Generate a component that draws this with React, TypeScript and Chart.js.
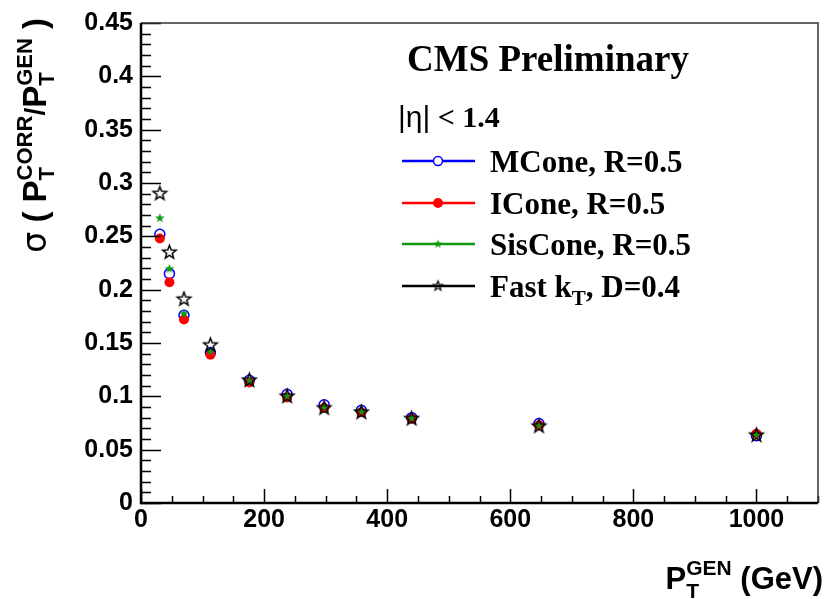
import React, { useEffect, useRef } from 'react';
import { Chart, registerables } from 'chart.js';

Chart.register(...registerables);

// ---- data ----
const ptGen = [30.6, 46.2, 69.8, 112.8, 176, 237.4, 297.6, 358, 439.8, 646.6, 1000];
const mcone = [0.252, 0.215, 0.176, 0.141, 0.115, 0.102, 0.092, 0.087, 0.080, 0.0745, 0.063];
const icone = [0.248, 0.207, 0.172, 0.139, 0.113, 0.099, 0.089, 0.085, 0.079, 0.073, 0.065];
const siscone = [0.267, 0.2195, 0.1774, 0.1422, 0.114, 0.100, 0.090, 0.086, 0.0795, 0.073, 0.064];
const fastkt = [0.290, 0.235, 0.191, 0.148, 0.115, 0.100, 0.089, 0.085, 0.079, 0.072, 0.0635];

const xTickValues = [0, 200, 400, 600, 800, 1000];
const xTickLabels = ['0', '200', '400', '600', '800', '1000'];
const yTickValues = [0, 0.05, 0.1, 0.15, 0.2, 0.25, 0.3, 0.35, 0.4, 0.45];
const yTickLabels = ['0', '0.05', '0.1', '0.15', '0.2', '0.25', '0.3', '0.35', '0.4', '0.45'];

const seriesNames = ['MCone, R=0.5', 'ICone, R=0.5', 'SisCone, R=0.5', 'Fast k'];

const BLUE = '#0000ff';
const RED = '#ff0000';
const GREEN = '#119911';
const BLACK = '#000000';

const SANS = '"Liberation Sans", Arial, Helvetica, sans-serif';
const SERIF = '"Liberation Serif", "Times New Roman", serif';

function starCanvas(R: number, fill: string | null, stroke: string | null, lw: number) {
  const s = Math.ceil(2 * R + 2 * lw + 2);
  const c = document.createElement('canvas');
  c.width = s;
  c.height = s;
  const ctx = c.getContext('2d')!;
  ctx.beginPath();
  for (let i = 0; i < 10; i++) {
    const r = i % 2 === 0 ? R : R * 0.42;
    const a = -Math.PI / 2 + (i * Math.PI) / 5;
    const px = s / 2 + r * Math.cos(a);
    const py = s / 2 + r * Math.sin(a);
    if (i === 0) ctx.moveTo(px, py);
    else ctx.lineTo(px, py);
  }
  ctx.closePath();
  if (fill) {
    ctx.fillStyle = fill;
    ctx.fill();
  }
  if (stroke) {
    ctx.strokeStyle = stroke;
    ctx.lineWidth = lw;
    ctx.lineJoin = 'miter';
    ctx.stroke();
  }
  return c;
}

type Run = { t: string; size: number; dy: number; weight?: string; fam?: string; stack?: boolean };

function layoutRuns(ctx: CanvasRenderingContext2D, runs: Run[]) {
  let x = 0;
  let stackStart = 0;
  let stackMax = 0;
  const out: (Run & { x: number })[] = [];
  for (const r of runs) {
    ctx.font = `${r.weight ?? 'bold'} ${r.size}px ${r.fam ?? SANS}`;
    const w = ctx.measureText(r.t).width;
    if (r.stack) {
      out.push({ ...r, x: stackStart });
      x = stackStart + Math.max(stackMax, w);
    } else {
      stackStart = x;
      stackMax = w;
      out.push({ ...r, x });
      x += w;
    }
  }
  return { out, width: x };
}

function drawRuns(ctx: CanvasRenderingContext2D, runs: Run[], x0: number, y0: number) {
  const { out } = layoutRuns(ctx, runs);
  ctx.textBaseline = 'alphabetic';
  ctx.textAlign = 'left';
  for (const r of out) {
    ctx.font = `${r.weight ?? 'bold'} ${r.size}px ${r.fam ?? SANS}`;
    ctx.fillText(r.t, x0 + r.x, y0 + r.dy);
  }
}

const decorPlugin = {
  id: 'decor',
  afterDraw(chart: any) {
    const ctx: CanvasRenderingContext2D = chart.ctx;
    const xs = chart.scales.x;
    const ys = chart.scales.y;
    const { left, right, top, bottom } = chart.chartArea;
    ctx.save();
    ctx.fillStyle = '#000';
    ctx.strokeStyle = '#000';

    // ticks (inside)
    ctx.lineWidth = 1.5;
    ctx.beginPath();
    for (let v = 0; v <= 1100; v += 50) {
      const px = Math.round(xs.getPixelForValue(v)) + 0.5;
      const len = v % 200 === 0 ? 14 : 7;
      ctx.moveTo(px, bottom);
      ctx.lineTo(px, bottom - len);
    }
    for (let k = 0; k <= 45; k++) {
      const v = k / 100;
      const py = Math.round(ys.getPixelForValue(v)) + 0.5;
      const len = k % 5 === 0 ? 20 : 10;
      ctx.moveTo(left, py);
      ctx.lineTo(left + len, py);
    }
    ctx.stroke();

    // frame
    ctx.lineWidth = 1.5;
    ctx.strokeStyle = '#333';
    ctx.beginPath();
    ctx.moveTo(left, top);
    ctx.lineTo(right, top);
    ctx.lineTo(right, bottom);
    ctx.stroke();
    ctx.strokeStyle = '#000';
    ctx.lineWidth = 2.5;
    ctx.beginPath();
    ctx.moveTo(left, top);
    ctx.lineTo(left, bottom);
    ctx.lineTo(right, bottom);
    ctx.stroke();

    // x title (right aligned)
    const xRuns: Run[] = [
      { t: 'P', size: 31, dy: 0 },
      { t: 'T', size: 21, dy: 9 },
      { t: 'GEN', size: 21, dy: -14, stack: true },
      { t: ' (GeV)', size: 31, dy: 0 },
    ];
    const xw = layoutRuns(ctx, xRuns).width;
    drawRuns(ctx, xRuns, 823 - xw, 589);

    // y title (rotated)
    const yRuns: Run[] = [
      { t: 'σ', size: 33, dy: 0, weight: 'normal', fam: '"DejaVu Sans", sans-serif' },
      { t: ' ( ', size: 33, dy: 0 },
      { t: 'P', size: 33, dy: 0 },
      { t: 'T', size: 22, dy: 8 },
      { t: 'CORR', size: 22, dy: -14, stack: true },
      { t: '/', size: 28, dy: -2 },
      { t: 'P', size: 33, dy: 0 },
      { t: 'T', size: 22, dy: 8 },
      { t: 'GEN', size: 22, dy: -14, stack: true },
      { t: ' )', size: 33, dy: 0 },
    ];
    const yw = layoutRuns(ctx, yRuns).width;
    ctx.save();
    ctx.translate(46, 18 + yw);
    ctx.rotate(-Math.PI / 2);
    drawRuns(ctx, yRuns, 0, 0);
    ctx.restore();

    // CMS Preliminary
    ctx.font = `bold 37px ${SERIF}`;
    ctx.textAlign = 'center';
    ctx.textBaseline = 'alphabetic';
    ctx.fillText('CMS Preliminary', 548, 71);

    // eta header
    drawRuns(
      ctx,
      [
        { t: '|η|', size: 30, dy: 0, weight: 'normal', fam: SANS },
        { t: ' < 1.4', size: 30, dy: 0, fam: SERIF },
      ],
      398,
      127
    );

    // legend
    const colors = [BLUE, RED, GREEN, BLACK];
    const lineYs = [161, 203, 244, 286];
    for (let i = 0; i < 4; i++) {
      const y = lineYs[i];
      ctx.strokeStyle = colors[i];
      ctx.lineWidth = 2.5;
      ctx.beginPath();
      ctx.moveTo(402, y);
      ctx.lineTo(475, y);
      ctx.stroke();
      const mx = 438;
      if (i === 0) {
        ctx.fillStyle = '#fff';
        ctx.beginPath();
        ctx.arc(mx, y, 4.5, 0, Math.PI * 2);
        ctx.fill();
        ctx.lineWidth = 1.5;
        ctx.strokeStyle = BLUE;
        ctx.stroke();
      } else if (i === 1) {
        ctx.fillStyle = RED;
        ctx.beginPath();
        ctx.arc(mx, y, 5, 0, Math.PI * 2);
        ctx.fill();
      } else if (i === 2) {
        const c = starCanvas(4.5, GREEN, null, 0);
        ctx.drawImage(c, mx - c.width / 2, y - c.height / 2);
      } else {
        const c = starCanvas(5, null, BLACK, 1.2);
        ctx.drawImage(c, mx - c.width / 2, y - c.height / 2);
      }
      ctx.fillStyle = '#000';
      if (i < 3) {
        drawRuns(ctx, [{ t: seriesNames[i], size: 31, dy: 0, fam: SERIF }], 490, y + 11);
      } else {
        drawRuns(
          ctx,
          [
            { t: seriesNames[3], size: 31, dy: 0, fam: SERIF },
            { t: 'T', size: 21, dy: 8, fam: SERIF },
            { t: ', D=0.4', size: 31, dy: 0, fam: SERIF },
          ],
          490,
          y + 11
        );
      }
    }
    ctx.restore();
  },
};

export default function App() {
  const ref = useRef<HTMLCanvasElement>(null);
  useEffect(() => {
    const toPts = (ys: number[]) => ptGen.map((x, i) => ({ x, y: ys[i] }));
    const greenStar = starCanvas(5, GREEN, null, 0);
    const blackStar = starCanvas(7, null, BLACK, 1.5);
    const chart = new Chart(ref.current!, {
      type: 'scatter',
      data: {
        datasets: [
          {
            label: seriesNames[0],
            data: toPts(mcone),
            pointStyle: 'circle',
            pointRadius: 5,
            backgroundColor: 'rgba(0,0,0,0)',
            borderColor: BLUE,
            borderWidth: 1.5,
            order: 4,
          },
          {
            label: seriesNames[1],
            data: toPts(icone),
            pointStyle: 'circle',
            pointRadius: 5,
            backgroundColor: RED,
            borderColor: RED,
            borderWidth: 0,
            order: 3,
          },
          {
            label: seriesNames[2],
            data: toPts(siscone),
            pointStyle: greenStar as any,
            pointRadius: 5,
            backgroundColor: GREEN,
            borderColor: GREEN,
            order: 2,
          },
          {
            label: seriesNames[3] + 'T, D=0.4',
            data: toPts(fastkt),
            pointStyle: blackStar as any,
            pointRadius: 7,
            backgroundColor: 'rgba(0,0,0,0)',
            borderColor: BLACK,
            order: 1,
          },
        ],
      },
      options: {
        responsive: false,
        animation: false,
        devicePixelRatio: 1,
        layout: { padding: { left: 0, top: 14, right: 5, bottom: 0 } },
        plugins: {
          legend: { display: false },
          tooltip: { enabled: false },
          title: { display: false },
        },
        scales: {
          x: {
            type: 'linear',
            min: 0,
            max: 1100,
            grid: { display: false, drawTicks: false },
            border: { display: false },
            afterBuildTicks: (s: any) => {
              s.ticks = xTickValues.map((v) => ({ value: v }));
            },
            afterFit: (s: any) => {
              s.height = 96;
            },
            ticks: {
              autoSkip: false,
              maxRotation: 0,
              padding: 2,
              color: '#000',
              font: { family: SANS, weight: 'bold', size: 25 },
              callback: (v: any) => {
                const i = xTickValues.indexOf(Number(v));
                return i >= 0 ? xTickLabels[i] : '';
              },
            },
          },
          y: {
            type: 'linear',
            min: 0,
            max: 0.45,
            grid: { display: false, drawTicks: false },
            border: { display: false },
            afterBuildTicks: (s: any) => {
              s.ticks = yTickValues.map((v) => ({ value: v }));
            },
            afterFit: (s: any) => {
              s.width = 141;
            },
            ticks: {
              autoSkip: false,
              padding: 8,
              color: '#000',
              font: { family: SANS, weight: 'bold', size: 25 },
              callback: (v: any) => {
                const i = yTickValues.findIndex((t) => Math.abs(t - Number(v)) < 1e-9);
                return i >= 0 ? yTickLabels[i] : '';
              },
            },
          },
        },
      },
      plugins: [decorPlugin],
    });
    return () => chart.destroy();
  }, []);
  return (
    <div style={{ position: 'fixed', left: 0, top: 0, width: 826, height: 599, background: '#fff' }}>
      <canvas ref={ref} width={826} height={599} style={{ display: 'block' }} />
    </div>
  );
}
